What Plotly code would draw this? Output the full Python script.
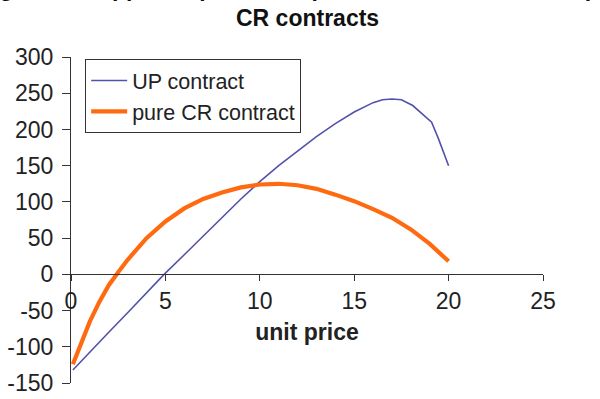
import plotly.graph_objects as go

# unit price values and supplier profit for each contract type
up_price = [0.1, 1, 2, 3, 4, 4.93, 6, 7, 8, 9, 10, 11, 12, 13, 14, 15, 16, 16.5, 17, 17.5, 18.1, 18.6, 19.1, 19.45, 20]
up_profit = [-132, -108, -80, -53, -26, 0, 27, 53, 79, 104, 128, 150, 170, 190, 208, 224, 237, 241, 242, 241, 233, 222, 210, 188, 150]

cr_price = [0.1, 0.5, 1, 1.5, 2, 2.5, 3, 4, 5, 6, 7, 8, 9, 10, 11, 12, 13, 14, 15, 16, 17, 18, 19, 20]
cr_profit = [-124, -98, -65, -38, -15, 3, 20, 50, 73, 91, 104, 113, 120, 124, 125, 123, 118, 110, 101, 90, 78, 62, 42, 18]

x_ticks = [0, 5, 10, 15, 20, 25]
y_ticks = [-150, -100, -50, 0, 50, 100, 150, 200, 250, 300]
y_tick_text = ["-150", "-100", "-50", "0", "50", "100", "150", "200", "250", "300"]

title_line1 = "Figure 5: Supplier's profit comparison between UP and pure"
title_line2 = "CR contracts"

FONT = "Liberation Sans, Arial, Helvetica, sans-serif"

fig = go.Figure()
fig.add_trace(go.Scatter(x=up_price, y=up_profit, mode="lines", name="UP contract",
                         legendgroup="a",
                         line=dict(color="#5252aa", width=1.6)))
fig.add_trace(go.Scatter(x=cr_price, y=cr_profit, mode="lines", name="pure CR contract",
                         legendgroup="b",
                         line=dict(color="#ff6a10", width=4.2)))

fig.update_layout(
    width=600, height=399,
    margin=dict(l=71, r=57, t=57, b=16, autoexpand=False),
    paper_bgcolor="white", plot_bgcolor="white",
    font=dict(family=FONT, size=23, color="#222"),
    showlegend=True,
    legend=dict(x=0.03, y=0.994, xanchor="left", yanchor="top",
                bordercolor="#333", borderwidth=1, bgcolor="white",
                font=dict(size=21.5, color="#222"), tracegroupgap=0, itemwidth=36),
    xaxis=dict(range=[0, 25], tickvals=x_ticks, showgrid=False, zeroline=False,
               showline=True, linecolor="#333", linewidth=1,
               ticks="outside", ticklen=6, tickcolor="#333",
               anchor="free", position=1/3, automargin=False,
               title=dict(text="<b>unit price</b>", font=dict(size=23), standoff=10)),
    yaxis=dict(range=[-150, 300], tickvals=y_ticks, ticktext=y_tick_text,
               showgrid=False, zeroline=False, automargin=False,
               showline=True, linecolor="#333", linewidth=1,
               ticks="outside", ticklen=8, tickcolor="#333", ticklabelstandoff=4),
    annotations=[
        dict(text="<b>" + title_line1 + "</b>", x=0.5, y=1.212, xref="paper", yref="paper",
             xanchor="center", yanchor="middle", showarrow=False, font=dict(size=23, color="#111")),
        dict(text="<b>" + title_line2 + "</b>", x=0.5, y=1.1196, xref="paper", yref="paper",
             xanchor="center", yanchor="middle", showarrow=False, font=dict(size=23, color="#111")),
    ],
)

fig.write_html("out.html")
